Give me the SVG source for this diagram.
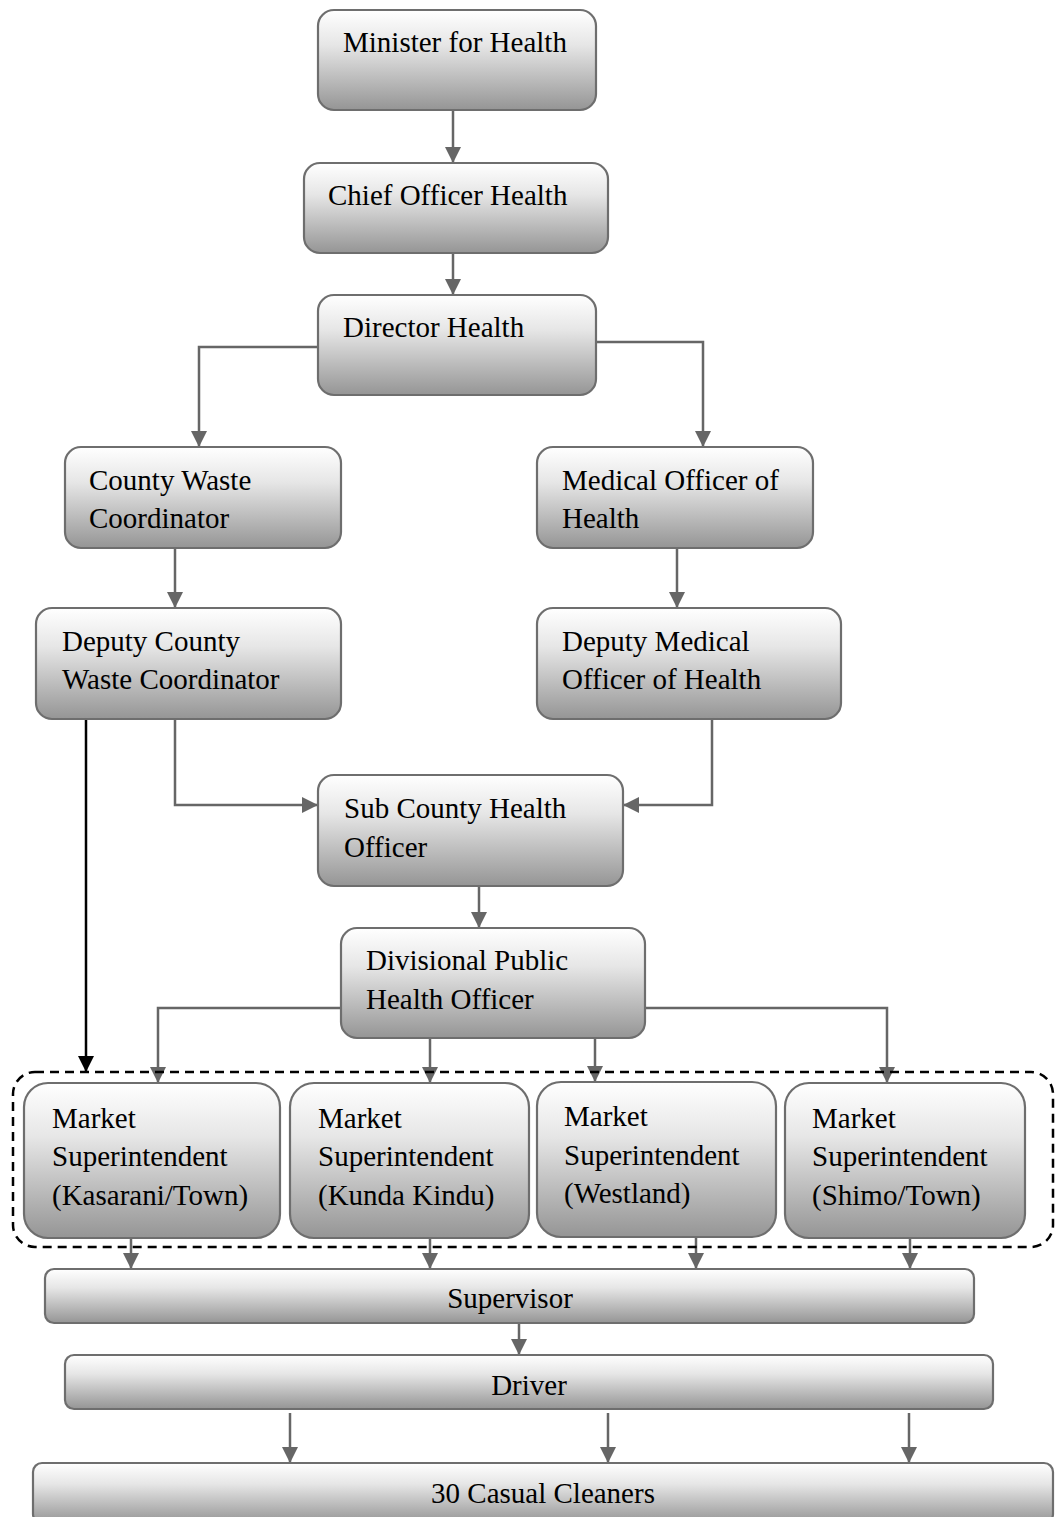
<svg xmlns="http://www.w3.org/2000/svg" width="1055" height="1517" viewBox="0 0 1055 1517">
<defs>
<linearGradient id="g" x1="0" y1="0" x2="0" y2="1">
<stop offset="0" stop-color="#ffffff"/>
<stop offset="0.35" stop-color="#e6e6e6"/>
<stop offset="1" stop-color="#959595"/>
</linearGradient>
<marker id="ah" markerUnits="userSpaceOnUse" markerWidth="16" markerHeight="16" refX="14" refY="7" orient="auto" viewBox="0 0 14 14">
<path d="M0,0 L14,7 L0,14 z" fill="#666"/>
</marker>
<marker id="ahb" markerUnits="userSpaceOnUse" markerWidth="16" markerHeight="16" refX="14" refY="7" orient="auto" viewBox="0 0 14 14">
<path d="M0,0 L14,7 L0,14 z" fill="#000"/>
</marker>
</defs>
<style>
.box{fill:url(#g);stroke:#6e6e6e;stroke-width:2.2}
.t{font-family:"Liberation Serif","Times New Roman",serif;font-size:29px;fill:#000}
.c{text-anchor:middle}
.ln{fill:none;stroke:#666;stroke-width:2.5;marker-end:url(#ah)}
.lb{fill:none;stroke:#000;stroke-width:2.5;marker-end:url(#ahb)}
</style>
<rect width="1055" height="1517" fill="#fff"/>

<g id="connectors">
<path class="ln" d="M453,110 V163"/>
<path class="ln" d="M453,253 V295"/>
<path class="ln" d="M318,347 H199 V447"/>
<path class="ln" d="M596,342 H703 V447"/>
<path class="ln" d="M175,548 V608"/>
<path class="ln" d="M677,548 V608"/>
<path class="ln" d="M175,719 V805 H318"/>
<path class="ln" d="M712,719 V805 H623"/>
<path class="ln" d="M479,886 V928"/>
<path class="lb" d="M86,719 V1072"/>
<path class="ln" d="M341,1008 H158 V1083"/>
<path class="ln" d="M430,1038 V1083"/>
<path class="ln" d="M595,1038 V1082"/>
<path class="ln" d="M645,1008 H887 V1083"/>
<path class="ln" d="M131,1238 V1269"/>
<path class="ln" d="M430,1238 V1269"/>
<path class="ln" d="M696,1237 V1269"/>
<path class="ln" d="M910,1238 V1269"/>
<path class="ln" d="M519,1323 V1355"/>
<path class="ln" d="M290,1413 V1463"/>
<path class="ln" d="M608,1413 V1463"/>
<path class="ln" d="M909,1413 V1463"/>
</g>

<rect id="market-group" x="13" y="1072" width="1040" height="175" rx="22" fill="none" stroke="#000" stroke-width="2.5" stroke-dasharray="9,6"/>

<g id="minister">
<rect class="box" x="318" y="10" width="278" height="100" rx="16"/>
<text class="t" x="343" y="52">Minister for Health</text>
</g>
<g id="chief-officer">
<rect class="box" x="304" y="163" width="304" height="90" rx="16"/>
<text class="t" x="328" y="205">Chief Officer Health</text>
</g>
<g id="director">
<rect class="box" x="318" y="295" width="278" height="100" rx="16"/>
<text class="t" x="343" y="337">Director Health</text>
</g>
<g id="county-waste">
<rect class="box" x="65" y="447" width="276" height="101" rx="16"/>
<text class="t" x="89" y="490">County Waste</text>
<text class="t" x="89" y="528">Coordinator</text>
</g>
<g id="moh">
<rect class="box" x="537" y="447" width="276" height="101" rx="16"/>
<text class="t" x="562" y="490">Medical Officer of</text>
<text class="t" x="562" y="528">Health</text>
</g>
<g id="deputy-cwc">
<rect class="box" x="36" y="608" width="305" height="111" rx="16"/>
<text class="t" x="62" y="651">Deputy County</text>
<text class="t" x="62" y="689">Waste Coordinator</text>
</g>
<g id="deputy-moh">
<rect class="box" x="537" y="608" width="304" height="111" rx="16"/>
<text class="t" x="562" y="651">Deputy Medical</text>
<text class="t" x="562" y="689">Officer of Health</text>
</g>
<g id="sub-county">
<rect class="box" x="318" y="775" width="305" height="111" rx="16"/>
<text class="t" x="344" y="818">Sub County Health</text>
<text class="t" x="344" y="857">Officer</text>
</g>
<g id="divisional">
<rect class="box" x="341" y="928" width="304" height="110" rx="16"/>
<text class="t" x="366" y="970">Divisional Public</text>
<text class="t" x="366" y="1009">Health Officer</text>
</g>
<g id="ms-kasarani">
<rect class="box" x="24" y="1083" width="256" height="155" rx="24"/>
<text class="t" x="52" y="1128">Market</text>
<text class="t" x="52" y="1166">Superintendent</text>
<text class="t" x="52" y="1205">(Kasarani/Town)</text>
</g>
<g id="ms-kunda">
<rect class="box" x="290" y="1083" width="239" height="155" rx="24"/>
<text class="t" x="318" y="1128">Market</text>
<text class="t" x="318" y="1166">Superintendent</text>
<text class="t" x="318" y="1205">(Kunda Kindu)</text>
</g>
<g id="ms-westland">
<rect class="box" x="537" y="1082" width="239" height="155" rx="24"/>
<text class="t" x="564" y="1126">Market</text>
<text class="t" x="564" y="1165">Superintendent</text>
<text class="t" x="564" y="1203">(Westland)</text>
</g>
<g id="ms-shimo">
<rect class="box" x="785" y="1083" width="240" height="155" rx="24"/>
<text class="t" x="812" y="1128">Market</text>
<text class="t" x="812" y="1166">Superintendent</text>
<text class="t" x="812" y="1205">(Shimo/Town)</text>
</g>
<g id="supervisor">
<rect class="box" x="45" y="1269" width="929" height="54" rx="9"/>
<text class="t c" x="510" y="1308">Supervisor</text>
</g>
<g id="driver">
<rect class="box" x="65" y="1355" width="928" height="54" rx="9"/>
<text class="t c" x="529" y="1395">Driver</text>
</g>
<g id="cleaners">
<rect class="box" x="33" y="1463" width="1020" height="60" rx="9"/>
<text class="t c" x="543" y="1503">30 Casual Cleaners</text>
</g>
</svg>
